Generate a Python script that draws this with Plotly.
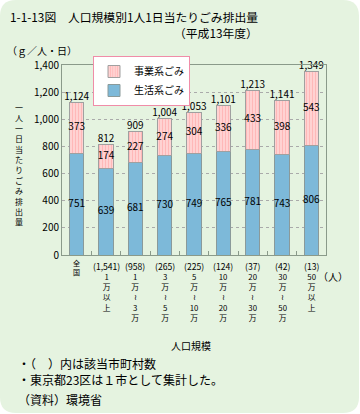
import plotly.graph_objects as go

categories = ["全国", "1万以上", "1万～3万", "3万～5万", "5万～10万", "10万～20万", "20万～30万", "30万～50万", "50万以上"]
count_labels = ["", "(1,541)", "(958)", "(265)", "(225)", "(124)", "(37)", "(42)", "(13)"]
size_labels = [
    ["全", "国"],
    ["1", "万", "以", "上"],
    ["1", "万", "≀", "3", "万"],
    ["3", "万", "≀", "5", "万"],
    ["5", "万", "≀", "10", "万"],
    ["10", "万", "≀", "20", "万"],
    ["20", "万", "≀", "30", "万"],
    ["30", "万", "≀", "50", "万"],
    ["50", "万", "以", "上"],
]
household = [751, 639, 681, 730, 749, 765, 781, 743, 806]
business = [373, 174, 227, 274, 304, 336, 433, 398, 543]
totals = [1124, 812, 909, 1004, 1053, 1101, 1213, 1141, 1349]
y_ticks = [0, 200, 400, 600, 800, 1000, 1200, 1400]
y_title = "一人一日当たりごみ排出量"

FONT = "Noto Sans CJK JP"
BG = "#E5F3E0"

# plot area pixels
L, R, T, B = 62, 326, 65, 255
W_, H_ = 360, 414
def px(x):
    return (x - L) / (R - L)
def py(y):
    return (B - y) / (B - T)

xs = list(range(len(categories)))

fig = go.Figure()
fig.add_trace(go.Bar(
    x=xs, y=household, name="生活系ごみ",
    marker=dict(color="#7DB9D9", line=dict(color="#8A9A9A", width=1)),
    textposition="none", width=0.49,
))
fig.add_trace(go.Bar(
    x=xs, y=business, name="事業系ごみ",
    marker=dict(color="#FFD2D2", line=dict(color="#A0A0A0", width=1),
                pattern=dict(shape="|", fgcolor="#FF9A9A", bgcolor="#FFD6D6", size=3, solidity=0.45)),
    textposition="none", width=0.49,
))
txtfont = dict(family=FONT, size=10, color="#000000")
fig.add_trace(go.Scatter(
    x=xs, y=[h / 2 for h in household], mode="text", text=[str(v) for v in household],
    textposition="middle center", textfont=txtfont, showlegend=False, hoverinfo="skip", cliponaxis=False,
))
fig.add_trace(go.Scatter(
    x=xs, y=[h + b / 2 for h, b in zip(household, business)], mode="text", text=[str(v) for v in business],
    textposition="middle center", textfont=txtfont, showlegend=False, hoverinfo="skip", cliponaxis=False,
))
fig.add_trace(go.Scatter(
    x=xs, y=totals, mode="text", text=[f"{v:,}" for v in totals],
    textposition="top center", textfont=txtfont, showlegend=False, hoverinfo="skip", cliponaxis=False,
))

r = 16
x0, x1 = px(0), px(W_ - 1)
y0, y1 = py(0), py(H_ - 1)
rx = r / (R - L)
ry = r / (B - T)
path = (f"M {x0+rx},{y0} L {x1-rx},{y0} Q {x1},{y0} {x1},{y0-ry} "
        f"L {x1},{y1+ry} Q {x1},{y1} {x1-rx},{y1} L {x0+rx},{y1} Q {x0},{y1} {x0},{y1+ry} "
        f"L {x0},{y0-ry} Q {x0},{y0} {x0+rx},{y0} Z")

def ann(text, x, y, xanchor="center", size=10, xref="paper", yanchor="middle"):
    return dict(text=text, x=x, y=y, xref=xref, yref="paper", xanchor=xanchor, yanchor=yanchor,
                showarrow=False, borderpad=0, font=dict(family=FONT, size=size, color="#000000"))

annotations = [
    ann("1-1-13図　人口規模別1人1日当たりごみ排出量", px(9), py(16), "left", 11.8),
    ann("（平成13年度）", px(259), py(33), "right", 11.8),
    ann("（ｇ／人・日）", px(6), py(50), "left", 10),
    ann("（人）", px(333), py(276), "center", 10),
    ann("人口規模", px(191), py(345), "center", 10),
    ann("・（　）内は該当市町村数", px(17), py(363), "left", 12),
    ann("・東京都23区は１市として集計した。", px(17), py(379), "left", 12),
    ann("（資料）環境省", px(17), py(399), "left", 12),
    # vertical y-axis title
    ann("<br>".join(y_title), px(19), py(164), "center", 8),
]
# x tick labels (stacked vertically)
for i, (cnt, lines) in enumerate(zip(count_labels, size_labels)):
    if cnt:
        txt = f"<span style='font-size:8.6px'>{cnt}</span><br>" + "<br>".join(lines)
        annotations.append(ann(txt, i, py(259), "center", 7.8, xref="x", yanchor="top"))
    else:
        annotations.append(ann("<br>".join(lines), i, py(257), "center", 7, xref="x", yanchor="top"))

fig.update_layout(
    width=W_, height=H_,
    margin=dict(l=L, r=W_ - R, t=T, b=H_ - B, pad=0),
    paper_bgcolor="#FFFFFF", plot_bgcolor="rgba(0,0,0,0)",
    barmode="stack",
    font=dict(family=FONT, size=10, color="#000000"),
    showlegend=True,
    legend=dict(x=px(93), y=py(56), xanchor="left", yanchor="top",
                bgcolor="#FFFFFF", bordercolor="#F08CA8", borderwidth=1,
                traceorder="reversed", font=dict(family=FONT, size=10),
                itemwidth=30, tracegroupgap=0),
    shapes=[dict(type="path", xref="paper", yref="paper", path=path,
                 fillcolor=BG, line=dict(width=0), layer="below")],
    annotations=annotations,
)
fig.update_xaxes(
    range=[-0.5, 8.5], tickmode="array", tickvals=xs, showticklabels=False,
    showline=True, linecolor="#8A9A8A", mirror=True,
    ticks="", showgrid=False, fixedrange=True,
    minor=dict(tickvals=[k + 0.5 for k in xs[:-1]], ticks="inside", ticklen=4, tickcolor="#8A9A8A", showgrid=False),
)
fig.update_yaxes(
    range=[0, 1400], tickmode="array", tickvals=y_ticks, ticktext=[f"{v:,}" for v in y_ticks],
    tickfont=dict(family=FONT, size=10), showline=True, linecolor="#8A9A8A", mirror=True,
    showgrid=True, gridcolor="#AAAAAA", griddash="dot", gridwidth=1, zeroline=False,
    ticks="", fixedrange=True,
)

fig.write_html("out.html", config={"displayModeBar": False, "staticPlot": True},
               post_script="document.body.style.margin='0';document.body.style.overflow='hidden';")
